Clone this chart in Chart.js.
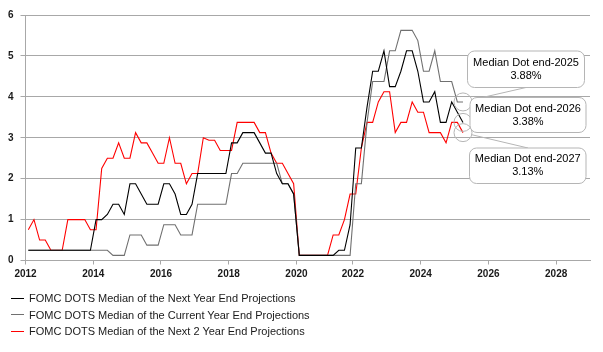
<!DOCTYPE html>
<html><head><meta charset="utf-8">
<script src="https://cdn.jsdelivr.net/npm/chart.js@4.4.1/dist/chart.umd.min.js"></script>
<style>
html,body{margin:0;padding:0;background:#fff;}
#wrap{position:relative;width:603px;height:352px;overflow:hidden;}
#legend{position:absolute;left:11px;top:290px;font:11px Arial,"Liberation Sans",sans-serif;color:#1a1a1a;}
.row{height:16.5px;display:flex;align-items:center;white-space:nowrap;}
.sw{display:inline-block;width:13px;height:1px;margin-right:5px;}
</style></head><body>
<div id="wrap"><canvas id="c" width="603" height="352"></canvas><div id="legend"></div></div>
<script>
// ---- data ----
const years = [2012,2013,2014,2015,2016,2017,2018,2019,2020,2021,2022,2023,2024,2025,2026,2027,2028];
const periodsPerYear = [6,6,6,6,6,6,6,6,5,5,6,6,6,6,6,6,6];
const tickYears = ['2012','2014','2016','2018','2020','2022','2024','2026','2028'];

const nextYear = [0.25,0.25,0.25,0.25,0.25,0.25,0.25,0.25,0.25,0.25,0.25,0.25,
  1.0,1.0,1.125,1.375,1.375,1.125,1.875,1.875,1.625,1.375,1.375,1.375,
  1.875,1.875,1.625,1.125,1.125,1.375,2.125,2.125,2.125,2.125,2.125,2.125,
  2.875,2.875,3.125,3.125,3.125,2.875,2.625,2.625,2.125,1.875,1.875,1.625,
  0.125,0.125,0.125,0.125,0.125,0.125,0.125,0.25,0.25,0.875,
  2.75,2.75,3.75,4.625,4.625,5.125,4.25,4.25,4.625,5.125,5.125,4.625,
  3.875,3.875,4.125,3.375,3.375,3.875,3.625,3.375];

const currentYear = [0.25,0.25,0.25,0.25,0.25,0.25,0.25,0.25,0.25,0.25,0.25,0.25,
  0.25,0.25,0.25,0.125,0.125,0.125,0.625,0.625,0.625,0.375,0.375,0.375,
  0.875,0.875,0.875,0.625,0.625,0.625,1.375,1.375,1.375,1.375,1.375,1.375,
  2.125,2.125,2.375,2.375,2.375,2.375,2.375,2.375,2.375,1.875,1.875,1.625,
  0.125,0.125,0.125,0.125,0.125,0.125,0.125,0.125,0.125,0.125,
  1.875,1.875,3.375,4.375,4.375,4.375,5.125,5.125,5.625,5.625,5.625,5.375,
  4.625,4.625,5.125,4.375,4.375,4.375,3.875,3.875];

const next2Year = [0.75,1.0,0.5,0.5,0.25,0.25,0.25,1.0,1.0,1.0,1.0,0.75,
  0.75,2.25,2.5,2.5,2.875,2.5,2.5,3.125,2.875,2.875,2.625,2.375,
  2.375,3.0,2.375,2.375,1.875,2.125,2.125,3.0,2.94,2.94,2.69,2.69,
  2.69,3.375,3.375,3.375,3.375,3.125,3.125,2.625,2.375,2.375,2.125,1.875,
  0.125,0.125,0.125,0.125,0.125,0.125,0.625,0.625,1.0,1.625,
  1.625,2.75,3.375,3.375,3.875,4.125,4.125,3.125,3.375,3.375,3.875,3.625,
  3.625,3.125,3.125,3.125,2.875,3.375,3.375,3.125];

const seriesNames = ['FOMC DOTS Median of the Next Year End Projections',
  'FOMC DOTS Median of the Current Year End Projections',
  'FOMC DOTS Median of the Next 2 Year End Projections'];
const seriesColors = ['#000000','#707070','#ff0000'];
const calloutTitles = ['Median Dot end-2026','Median Dot end-2025','Median Dot end-2027'];

// categories: one per period
const categories = [];
years.forEach((y, k) => { for (let p = 1; p <= periodsPerYear[k]; p++) categories.push(y + ' P' + p); });

// ---- callout plugin ----
const calloutLayout = [
  {ds: 1, box: {x: 467.5, y: 51, w: 117, h: 36.5}, to: [526, 87.5]},
  {ds: 0, box: {x: 470, y: 97.5, w: 116, h: 35}, to: null},
  {ds: 2, box: {x: 469.5, y: 148, w: 116.5, h: 35.5}, to: [528, 148]}
];
function rr(ctx, x, y, w, h, r) {
  ctx.beginPath();
  ctx.moveTo(x + r, y); ctx.lineTo(x + w - r, y); ctx.arcTo(x + w, y, x + w, y + r, r);
  ctx.lineTo(x + w, y + h - r); ctx.arcTo(x + w, y + h, x + w - r, y + h, r);
  ctx.lineTo(x + r, y + h); ctx.arcTo(x, y + h, x, y + h - r, r);
  ctx.lineTo(x, y + r); ctx.arcTo(x, y, x + r, y, r); ctx.closePath();
}
const calloutPlugin = {
  id: 'callouts',
  afterDatasetsDraw(chart) {
    const ctx = chart.ctx;
    ctx.save();
    ctx.strokeStyle = '#b5b5b5';
    ctx.lineWidth = 1;
    calloutLayout.forEach(c => {
      const meta = chart.getDatasetMeta(c.ds);
      const data = chart.data.datasets[c.ds].data;
      const pt = meta.data[data.length - 1];
      const cx = pt.x, cy = pt.y, r = 9;
      if (c.to) {
        const dx = c.to[0] - cx, dy = c.to[1] - cy, L = Math.hypot(dx, dy);
        ctx.beginPath();
        ctx.moveTo(cx + dx / L * r, cy + dy / L * r);
        ctx.lineTo(c.to[0], c.to[1]);
        ctx.stroke();
      }
      ctx.beginPath(); ctx.arc(cx, cy, r, 0, Math.PI * 2); ctx.stroke();
    });
    calloutLayout.forEach(c => {
      const data = chart.data.datasets[c.ds].data;
      const v = data[data.length - 1];
      const b = c.box;
      rr(ctx, b.x, b.y, b.w, b.h, 7);
      ctx.fillStyle = '#fff'; ctx.fill(); ctx.stroke();
      ctx.fillStyle = '#000';
      ctx.font = '11px Arial, "Liberation Sans", sans-serif';
      ctx.textAlign = 'center'; ctx.textBaseline = 'middle';
      ctx.fillText(calloutTitles[c.ds], b.x + b.w / 2, b.y + b.h / 2 - 6.5);
      ctx.fillText(v.toFixed(2) + '%', b.x + b.w / 2, b.y + b.h / 2 + 6.5);
    });
    ctx.restore();
  }
};

const gridColor = '#a8a8a8';
const chart = new Chart(document.getElementById('c'), {
  type: 'line',
  data: {
    labels: categories,
    datasets: [nextYear, currentYear, next2Year].map((d, i) => ({
      label: seriesNames[i], data: d, borderColor: seriesColors[i], backgroundColor: seriesColors[i],
      borderWidth: 1.1, pointRadius: 0, tension: 0, fill: false
    }))
  },
  options: {
    responsive: false, animation: false, devicePixelRatio: 1,
    layout: {padding: {top: 15, right: 13, left: 0, bottom: 66.5}},
    plugins: {legend: {display: false}, tooltip: {enabled: false}},
    scales: {
      x: {
        type: 'category', offset: true,
        grid: {display: true, offset: true, drawOnChartArea: false, drawTicks: true, tickLength: 4,
          tickColor: ctx => (ctx.tick && ctx.tick.label) ? gridColor : 'rgba(0,0,0,0)'},
        border: {display: true, color: gridColor},
        ticks: {
          autoSkip: false, maxRotation: 0, minRotation: 0, padding: 4, labelOffset: -2.8,
          color: '#1a1a1a', font: {family: 'Arial, "Liberation Sans", sans-serif', size: 10, weight: 'bold'},
          callback: function(val, idx) {
            const lab = this.getLabelForValue(val);
            const y = lab.slice(0, 4);
            return (lab.endsWith(' P1') && tickYears.includes(y)) ? y : '';
          }
        },
        afterFit: s => { s.height = 25; }
      },
      y: {
        min: 0, max: 6,
        grid: {color: gridColor, tickLength: 5, drawTicks: true},
        border: {display: true, color: gridColor},
        ticks: {stepSize: 1, padding: 7, color: '#1a1a1a',
          font: {family: 'Arial, "Liberation Sans", sans-serif', size: 10, weight: 'bold'}},
        afterFit: s => { s.width = 25.5; }
      }
    }
  },
  plugins: [calloutPlugin]
});

// HTML legend built from the chart's datasets
const lg = document.getElementById('legend');
chart.data.datasets.forEach(ds => {
  const row = document.createElement('div'); row.className = 'row';
  const sw = document.createElement('span'); sw.className = 'sw'; sw.style.background = ds.borderColor;
  const t = document.createElement('span'); t.textContent = ds.label;
  row.appendChild(sw); row.appendChild(t); lg.appendChild(row);
});
</script>
</body></html>
